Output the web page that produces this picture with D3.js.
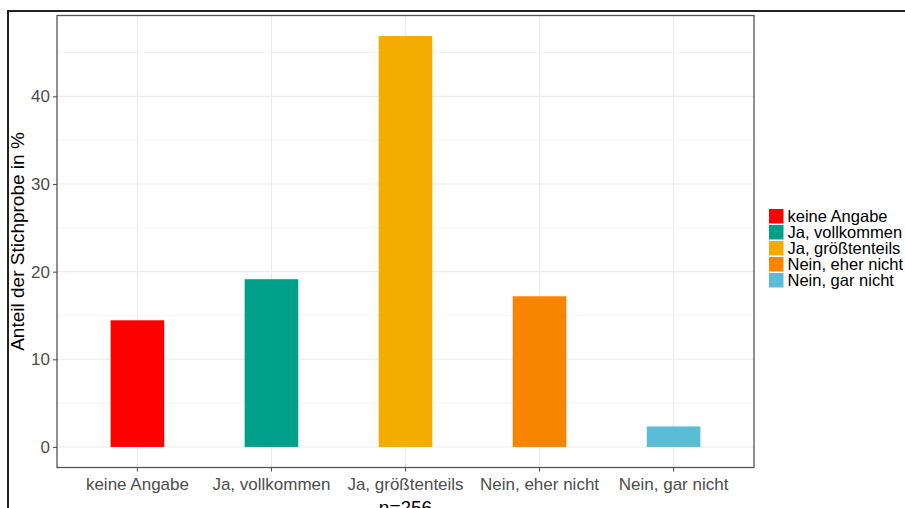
<!DOCTYPE html>
<html><head><meta charset="utf-8">
<script src="https://cdn.jsdelivr.net/npm/d3@7"></script>
<style>body{margin:0;background:#fff}svg{display:block}</style>
</head><body>
<script>
const categories = ["keine Angabe","Ja, vollkommen","Ja, größtenteils","Nein, eher nicht","Nein, gar nicht"];
const values = [14.45, 19.14, 46.88, 17.19, 2.34];
const colors = ["#FF0000","#00A08A","#F2AD00","#F98400","#5BBCD6"];
const yTicks = [0,10,20,30,40];
const yMinor = [5,15,25,35,45];
const xTitle = "n=256";
const yTitle = "Anteil der Stichprobe in %";

const W = 905, H = 508;
const font = "'Liberation Sans', Arial, Helvetica, sans-serif";
const svg = d3.select("body").append("svg").attr("width", W).attr("height", H);

// outer frame
svg.append("path").attr("d", `M8,${H+5} L8,11 L${W+5},11`).attr("fill","none").attr("stroke","#222").attr("stroke-width",2);

const P = {l:57, t:15.5, r:754, b:467.5};
const maxV = d3.max(values);
const y = d3.scaleLinear().domain([-maxV*0.05, maxV*1.05]).range([P.b, P.t]);
const x = d3.scaleBand().domain(categories).range([P.l, P.r]).paddingInner(0.6).paddingOuter(0.4);
const xc = c => x(c) + x.bandwidth()/2;

const g = svg.append("g");
g.selectAll(".ymin").data(yMinor).enter().append("line")
  .attr("x1",P.l).attr("x2",P.r).attr("y1",d=>y(d)).attr("y2",d=>y(d))
  .attr("stroke","#ebebeb").attr("stroke-width",0.6);
g.selectAll(".ymaj").data(yTicks).enter().append("line")
  .attr("x1",P.l).attr("x2",P.r).attr("y1",d=>y(d)).attr("y2",d=>y(d))
  .attr("stroke","#ebebeb").attr("stroke-width",1.1);
g.selectAll(".xmaj").data(categories).enter().append("line")
  .attr("x1",d=>xc(d)).attr("x2",d=>xc(d)).attr("y1",P.t).attr("y2",P.b)
  .attr("stroke","#ebebeb").attr("stroke-width",1.1);

g.selectAll(".bar").data(categories).enter().append("rect")
  .attr("x",d=>x(d)).attr("width",x.bandwidth())
  .attr("y",(d,i)=>y(values[i])).attr("height",(d,i)=>y(0)-y(values[i]))
  .attr("fill",(d,i)=>colors[i]);

svg.append("rect").attr("x",P.l).attr("y",P.t).attr("width",P.r-P.l).attr("height",P.b-P.t)
  .attr("fill","none").attr("stroke","#555").attr("stroke-width",1.3);

const yAxis = d3.axisLeft(y).tickValues(yTicks).tickSize(4).tickPadding(3);
const ya = svg.append("g").attr("transform",`translate(${P.l},0)`).call(yAxis);
const xAxis = d3.axisBottom(x).tickSize(4).tickPadding(3);
const xa = svg.append("g").attr("transform",`translate(0,${P.b})`).call(xAxis);
[ya,xa].forEach(a=>{
  a.select(".domain").remove();
  a.selectAll(".tick line").attr("stroke","#555").attr("stroke-width",1.1);
  a.selectAll(".tick text").attr("fill","#4d4d4d").style("font-family",font).style("font-size","17px");
});
xa.selectAll(".tick text").attr("dy","0.9em");

svg.append("text").attr("x",(P.l+P.r)/2).attr("y",H+6).attr("text-anchor","middle")
  .style("font-family",font).style("font-size","19px").attr("fill","#000").text(xTitle);
svg.append("text").attr("transform",`translate(24,${(P.t+P.b)/2}) rotate(-90)`).attr("text-anchor","middle")
  .style("font-family",font).style("font-size","19px").attr("fill","#000").text(yTitle);

const lg = svg.append("g").attr("transform","translate(769,209)");
categories.forEach((c,i)=>{
  lg.append("rect").attr("x",0).attr("y",i*16).attr("width",14.5).attr("height",14.5).attr("fill",colors[i]);
  lg.append("text").attr("x",18.5).attr("y",i*16+13).style("font-family",font).style("font-size","16.5px").attr("fill","#000").text(c);
});
</script>
</body></html>
